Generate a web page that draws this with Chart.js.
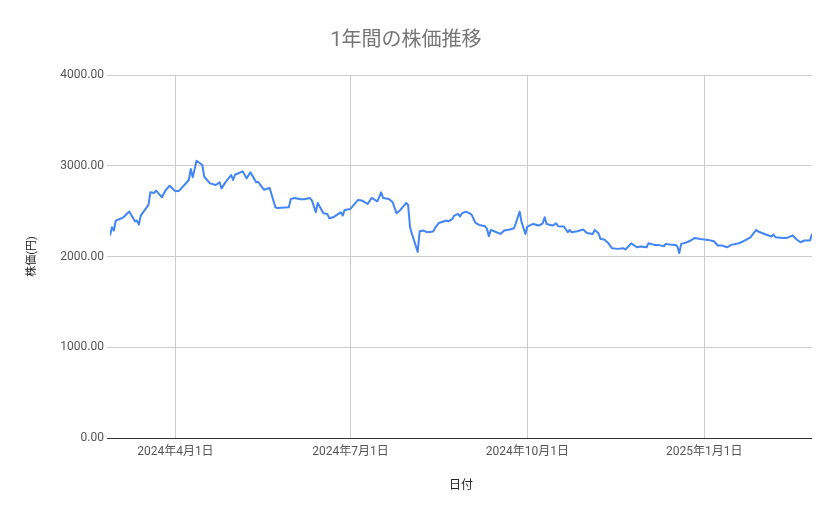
<!DOCTYPE html>
<html>
<head>
<meta charset="utf-8">
<title>1年間の株価推移</title>
<script src="https://cdn.jsdelivr.net/npm/chart.js@4.4.1/dist/chart.umd.min.js"></script>
<style>
  body { margin: 0; background: #fff; }
  #myChart { display: block; }
</style>
</head>
<body>
<canvas id="myChart" width="839" height="519"></canvas>
<script>
// 日付と終値
var dates = [
  '2024-02-27','2024-02-28','2024-02-29','2024-03-01','2024-03-04','2024-03-05','2024-03-08','2024-03-11',
  '2024-03-12','2024-03-13','2024-03-14','2024-03-18','2024-03-19','2024-03-21','2024-03-22','2024-03-25',
  '2024-03-27','2024-03-29','2024-04-01','2024-04-03','2024-04-08','2024-04-09','2024-04-10','2024-04-12',
  '2024-04-15','2024-04-16','2024-04-19','2024-04-22','2024-04-24','2024-04-25','2024-04-27','2024-04-30',
  '2024-05-01','2024-05-02','2024-05-06','2024-05-08','2024-05-10','2024-05-13','2024-05-14','2024-05-17',
  '2024-05-20','2024-05-23','2024-05-24','2024-05-30','2024-05-31','2024-06-02','2024-06-05','2024-06-07',
  '2024-06-10','2024-06-11','2024-06-13','2024-06-14','2024-06-17','2024-06-19','2024-06-20','2024-06-22',
  '2024-06-26','2024-06-27','2024-06-28','2024-07-01','2024-07-05','2024-07-07','2024-07-10','2024-07-12',
  '2024-07-15','2024-07-17','2024-07-18','2024-07-21','2024-07-23','2024-07-25','2024-07-27','2024-07-30',
  '2024-07-31','2024-08-01','2024-08-02','2024-08-05','2024-08-06','2024-08-08','2024-08-10','2024-08-13',
  '2024-08-14','2024-08-16','2024-08-20','2024-08-21','2024-08-23','2024-08-24','2024-08-26','2024-08-27',
  '2024-08-28','2024-08-30','2024-09-01','2024-09-02','2024-09-04','2024-09-06','2024-09-09','2024-09-10',
  '2024-09-11','2024-09-12','2024-09-14','2024-09-17','2024-09-19','2024-09-22','2024-09-24','2024-09-25',
  '2024-09-27','2024-09-28','2024-09-30','2024-10-01','2024-10-04','2024-10-07','2024-10-09','2024-10-10',
  '2024-10-11','2024-10-14','2024-10-16','2024-10-17','2024-10-20','2024-10-22','2024-10-23','2024-10-24',
  '2024-10-27','2024-10-30','2024-11-01','2024-11-04','2024-11-05','2024-11-07','2024-11-08','2024-11-10',
  '2024-11-12','2024-11-14','2024-11-17','2024-11-20','2024-11-21','2024-11-24','2024-11-27','2024-11-29',
  '2024-12-02','2024-12-03','2024-12-06','2024-12-08','2024-12-11','2024-12-12','2024-12-14','2024-12-17',
  '2024-12-18','2024-12-19','2024-12-20','2024-12-23','2024-12-25','2024-12-27','2024-12-30','2025-01-03',
  '2025-01-06','2025-01-08','2025-01-10','2025-01-13','2025-01-15','2025-01-19','2025-01-21','2025-01-25',
  '2025-01-28','2025-01-29','2025-02-02','2025-02-05','2025-02-06','2025-02-07','2025-02-11','2025-02-13',
  '2025-02-16','2025-02-18','2025-02-20','2025-02-22','2025-02-25','2025-02-26'
];
var prices = [
  2231, 2322, 2286, 2396, 2421, 2432, 2495, 2388,
  2396, 2352, 2451, 2568, 2707, 2700, 2725, 2652,
  2733, 2780, 2718, 2725, 2843, 2964, 2872, 3055,
  3008, 2879, 2806, 2788, 2817, 2751, 2817, 2898,
  2843, 2901, 2938, 2861, 2927, 2817, 2824, 2736,
  2755, 2542, 2535, 2542, 2634, 2645, 2630, 2630,
  2645, 2616, 2487, 2590, 2476, 2469, 2421, 2432,
  2487, 2451, 2513, 2524, 2623, 2616, 2579, 2645,
  2608, 2707, 2645, 2634, 2597, 2476, 2513, 2590,
  2568, 2322, 2249, 2050, 2278, 2286, 2267, 2275,
  2315, 2370, 2396, 2388, 2414, 2451, 2469, 2440,
  2476, 2495, 2476, 2462, 2370, 2348, 2333, 2304,
  2223, 2293, 2275, 2249, 2286, 2297, 2311, 2366,
  2495, 2377, 2249, 2330, 2359, 2341, 2366, 2432,
  2359, 2341, 2366, 2333, 2330, 2267, 2293, 2267,
  2278, 2297, 2260, 2249, 2293, 2256, 2194, 2187,
  2150, 2091, 2084, 2091, 2077, 2145, 2102, 2110,
  2102, 2146, 2128, 2128, 2113, 2139, 2132, 2128,
  2110, 2037, 2139, 2157, 2176, 2205, 2194, 2183,
  2168, 2121, 2121, 2102, 2128, 2146, 2165, 2212,
  2293, 2275, 2242, 2220, 2242, 2212, 2205, 2205,
  2231, 2187, 2157, 2176, 2176, 2249
];
var tickDates = ['2024-04-01', '2024-07-01', '2024-10-01', '2025-01-01'];
var tickLabels = ['2024年4月1日', '2024年7月1日', '2024年10月1日', '2025年1月1日'];
var yTicks = [0, 1000, 2000, 3000, 4000];

var FONT = "Roboto, 'Noto Sans CJK JP', sans-serif";

// 2024-01-01 からの日数
function toDay(s) {
    var p = s.split('-');
    var t = Date.UTC(+p[0], +p[1] - 1, +p[2]);
    return Math.round((t - Date.UTC(2024, 0, 1)) / 86400000);
}

var points = [];
for (var i = 0; i < dates.length; i++) {
    points.push({x: toDay(dates[i]), y: prices[i]});
}

var ctx = document.getElementById('myChart').getContext('2d');
var chart = new Chart(ctx, {
    type: 'line',
    data: {
        datasets: [{
            label: '株価',
            data: points,
            borderColor: '#4285F4',
            backgroundColor: '#4285F4',
            borderWidth: 2,
            borderJoinStyle: 'round',
            pointRadius: 0,
            tension: 0,
            fill: false
        }]
    },
    options: {
        responsive: false,
        animation: false,
        layout: {padding: {left: 0, right: 27, top: 0, bottom: 0}},
        plugins: {
            legend: {display: false},
            tooltip: {enabled: false},
            title: {
                display: true,
                text: '1年間の株価推移',
                color: '#757575',
                font: {family: FONT, size: 20, weight: 'normal'},
                padding: {top: 29, bottom: 22}
            }
        },
        scales: {
            x: {
                type: 'linear',
                min: toDay(dates[0]),
                max: toDay(dates[dates.length - 1]),
                afterBuildTicks: function(scale) {
                    scale.ticks = tickDates.map(function(d) { return {value: toDay(d)}; });
                },
                afterFit: function(scale) { scale.height = 81; },
                ticks: {
                    autoSkip: false,
                    maxRotation: 0,
                    padding: 7,
                    color: '#555',
                    font: {family: FONT, size: 12},
                    callback: function(value, index) { return tickLabels[index]; }
                },
                grid: {color: '#cccccc', drawTicks: false},
                border: {display: false},
                title: {
                    display: true,
                    text: '日付',
                    color: '#222',
                    font: {family: FONT, size: 12},
                    padding: {top: 0, bottom: 26}
                }
            },
            y: {
                min: 0,
                max: 4000,
                afterBuildTicks: function(scale) {
                    scale.ticks = yTicks.map(function(v) { return {value: v}; });
                },
                afterFit: function(scale) { scale.width = 110; },
                ticks: {
                    padding: 3,
                    color: '#555',
                    font: {family: FONT, size: 12},
                    callback: function(value) { return value.toFixed(2); }
                },
                grid: {
                    tickLength: 3,
                    color: function(c) { return c.tick && c.tick.value === 0 ? '#333333' : '#cccccc'; }
                },
                border: {display: false},
                title: {
                    display: true,
                    text: '株価(円)',
                    color: '#222',
                    font: {family: FONT, size: 11},
                    padding: {top: 26, bottom: 0}
                }
            }
        }
    }
});
</script>
</body>
</html>
